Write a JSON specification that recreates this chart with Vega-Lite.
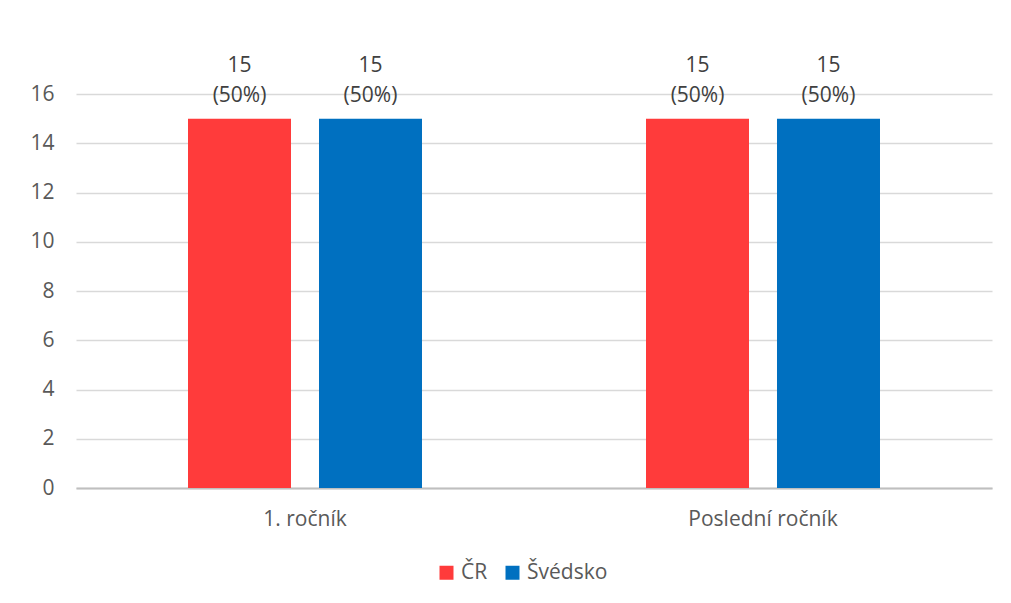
{
  "$schema": "https://vega.github.io/schema/vega-lite/v6.json",
  "width": 916,
  "height": 394,
  "autosize": {"type": "none"},
  "padding": {"left": 76, "top": 94, "right": 19, "bottom": 115},
  "background": "white",
  "config": {
    "font": "Open Sans",
    "view": {"stroke": null},
    "axis": {"labelFont": "Open Sans", "labelColor": "#595959", "labelFontSize": 21}
  },
  "data": {
    "values": [
      {"rocnik": "1. ročník", "zeme": "ČR", "pocet": 15, "label": "15\n(50%)"},
      {"rocnik": "1. ročník", "zeme": "Švédsko", "pocet": 15, "label": "15\n(50%)"},
      {"rocnik": "Poslední ročník", "zeme": "ČR", "pocet": 15, "label": "15\n(50%)"},
      {"rocnik": "Poslední ročník", "zeme": "Švédsko", "pocet": 15, "label": "15\n(50%)"}
    ]
  },
  "encoding": {
    "x": {
      "field": "rocnik", "type": "nominal", "sort": null,
      "scale": {"paddingInner": 0, "paddingOuter": 0},
      "axis": {"title": null, "labelAngle": 0, "ticks": false, "domainColor": "#bfbfbf", "domainWidth": 2, "labelPadding": 20, "grid": false}
    },
    "xOffset": {
      "field": "zeme", "type": "nominal", "sort": null,
      "scale": {"paddingInner": 0.2137, "paddingOuter": 0.855}
    },
    "y": {
      "field": "pocet", "type": "quantitative",
      "scale": {"domain": [0, 16], "nice": false},
      "axis": {"title": null, "values": [0, 2, 4, 6, 8, 10, 12, 14, 16], "ticks": false, "domain": false, "gridColor": "#d9d9d9", "gridWidth": 1.5, "labelPadding": 22}
    }
  },
  "layer": [
    {
      "mark": {"type": "bar"},
      "encoding": {
        "color": {
          "field": "zeme", "type": "nominal", "sort": null,
          "scale": {"domain": ["ČR", "Švédsko"], "range": ["#FF3B3B", "#0070C0"]},
          "legend": {
            "title": null, "orient": "none", "direction": "horizontal",
            "legendX": 360, "legendY": 468,
            "symbolType": "square", "symbolSize": 196, "symbolStrokeWidth": 0,
            "labelFont": "Open Sans", "labelFontSize": 21, "labelColor": "#595959",
            "columnPadding": 14, "labelOffset": 4
          }
        }
      }
    },
    {
      "mark": {"type": "text", "baseline": "bottom", "dy": -43, "lineBreak": "\n", "lineHeight": 30, "fontSize": 21, "color": "#404040", "font": "Open Sans"},
      "encoding": {"text": {"field": "label"}}
    }
  ]
}
